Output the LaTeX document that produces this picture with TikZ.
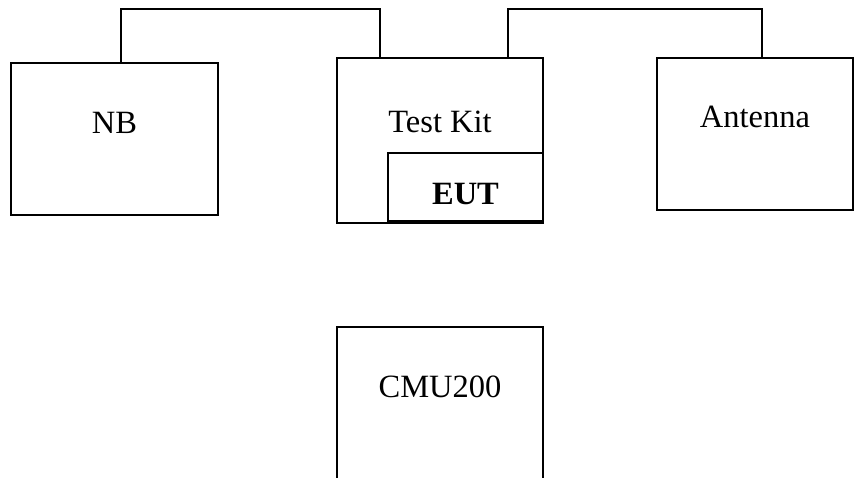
\documentclass[tikz,border=0pt]{standalone}
\usepackage{fontspec}
\setmainfont{Liberation Serif}
\usetikzlibrary{positioning,calc}

\begin{document}
\begin{tikzpicture}[
    x=1pt, y=-1pt,
    font=\fontsize{32.5}{38}\selectfont,
    line width=1.5pt,
    box/.style={draw, rectangle, inner sep=0pt},
    lbl/.style={anchor=base, inner sep=0pt}
  ]
    \clip (0,0) rectangle (854,478);
    \useasboundingbox (0,0) rectangle (854,478);

    \node[box, minimum width=207pt, minimum height=152pt] (nb)   at (114.5,139) {};
    \node[box, minimum width=206pt, minimum height=165pt] (kit)  at (440,140.5) {};
    \node[box, minimum width=155pt, minimum height=68pt]  (eut)  at (465.5,187) {};
    \node[box, minimum width=196pt, minimum height=152pt] (ant)  at (755,134)   {};
    \node[box, minimum width=206pt, minimum height=156pt] (cmu)  at (440,405)   {};

    % Beschriftungen
    \node[lbl] (nbtxt)  at ([yshift=-71pt]nb.north)  {NB};
    \node[lbl] (kittxt) at ([yshift=-75pt]kit.north) {Test Kit};
    \node[lbl] (euttxt) at ([yshift=-52pt]eut.north) {\textbf{EUT}};
    \node[lbl] (anttxt) at ([yshift=-70pt]ant.north) {Antenna};
    \node[lbl] (cmutxt) at ([yshift=-71pt]cmu.north) {CMU200};

    % NB -- Test Kit
    \draw ([xshift=6.5pt]nb.north) -- ++(0,-53) -| ([xshift=-60pt]kit.north);
    % Test Kit -- Antenna
    \draw ([xshift=68pt]kit.north) -- ++(0,-48) -| ([xshift=7pt]ant.north);
  \end{tikzpicture}
\end{document}
